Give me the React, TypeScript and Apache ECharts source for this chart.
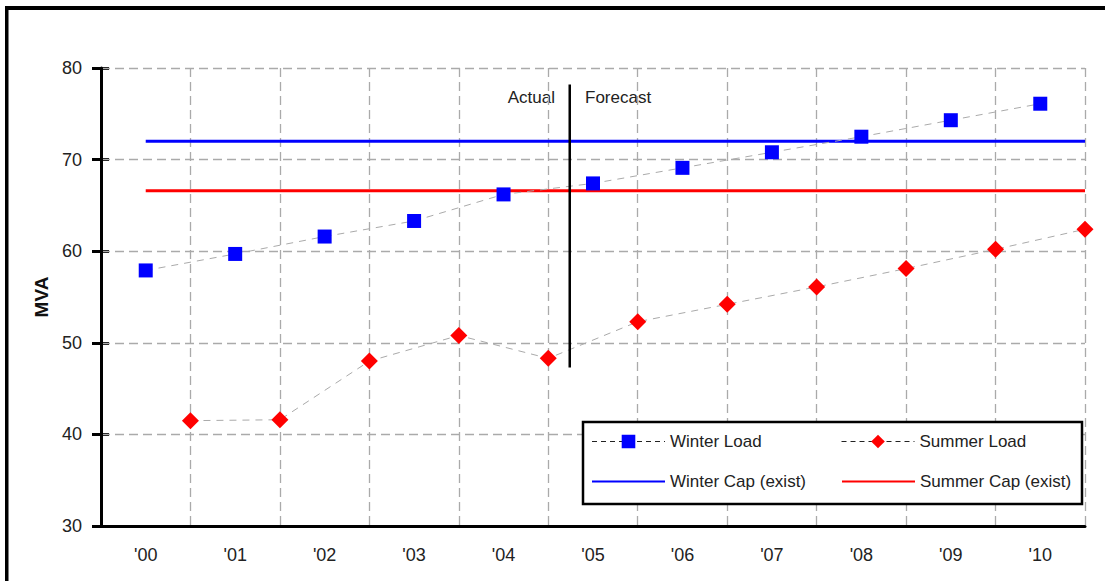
import React, { useEffect, useRef } from "react";
import * as echarts from "echarts";

// Year labels on the category axis
const years = ["'00", "'01", "'02", "'03", "'04", "'05", "'06", "'07", "'08", "'09", "'10"];

// Peak loads in MVA
const winterLoad = [57.9, 59.7, 61.6, 63.3, 66.2, 67.4, 69.1, 70.8, 72.5, 74.3, 76.1];
const summerLoad = [41.5, 41.6, 48.0, 50.8, 48.3, 52.3, 54.2, 56.1, 58.1, 60.2, 62.4];

// Existing capacities in MVA
const winterCap = 72.0;
const summerCap = 66.6;

// Actual / forecast divider: position on the year scale and its vertical extent (MVA)
const dividerX = 5.24;
const dividerTop = 78.2;
const dividerBottom = 47.3;

const yTicks = { min: 30, max: 80, interval: 10 };

const FONT = "'Liberation Sans', Arial, sans-serif";

export default function App() {
  const ref = useRef<HTMLDivElement>(null);

  useEffect(() => {
    if (!ref.current) return;
    const chart = echarts.init(ref.current, null, { renderer: "svg" });

    // winter loads sit mid-year, summer loads sit at the year boundaries
    const winterData = winterLoad.map((v, i) => [i + 0.5, v]);
    const summerData = summerLoad.map((v, i) => [i + 1, v]);
    const end = years.length;

    const gridLine = { color: "#aaaaaa", type: [9, 5] as any, width: 1.3 };

    chart.setOption({
      animation: false,
      backgroundColor: "#ffffff",
      textStyle: { fontFamily: FONT },
      grid: { left: 101, right: 20, top: 68, bottom: 55 },
      xAxis: [
        {
          type: "category",
          data: years,
          boundaryGap: true,
          axisLine: { lineStyle: { color: "#000", width: 3 } },
          axisTick: { length: 8, lineStyle: { color: "#000", width: 2.5 } },
          axisLabel: { fontSize: 18, color: "#222", margin: 20, fontFamily: FONT },
          splitLine: { show: true, lineStyle: gridLine },
          z: 3,
        },
        { type: "value", min: 0, max: end, show: false },
      ],
      yAxis: [
        {
          type: "value",
          ...yTicks,
          name: "MVA",
          nameLocation: "middle",
          nameGap: 47,
          nameTextStyle: { fontSize: 19, fontWeight: "bold", color: "#111", fontFamily: FONT },
          axisLine: { show: true, lineStyle: { color: "#000", width: 3 } },
          axisTick: { show: true, length: 9, lineStyle: { color: "#000", width: 3 } },
          axisLabel: { fontSize: 18, color: "#222", margin: 19, fontFamily: FONT },
          splitLine: { show: true, lineStyle: gridLine },
          z: 3,
        },
        {
          type: "value",
          ...yTicks,
          position: "left",
          axisLine: { show: false },
          axisTick: { show: true, inside: true, length: 8, lineStyle: { color: "#000", width: 3 } },
          axisLabel: { show: false },
          splitLine: { show: false },
        },
      ],
      legend: {
        left: 583,
        top: 422,
        width: 495,
        orient: "horizontal",
        backgroundColor: "#fff",
        borderColor: "#000",
        borderWidth: 2.5,
        padding: [5, 2, 8, 8],
        itemGap: 11,
        itemWidth: 73,
        itemHeight: 17,
        textStyle: { fontSize: 17, color: "#222", width: 160, lineHeight: 29, fontFamily: FONT },
        data: [
          { name: "Winter Load", lineStyle: { color: "#222", type: [5, 4], width: 1 } },
          { name: "Summer Load", lineStyle: { color: "#222", type: [5, 4], width: 1 } },
          { name: "Winter Cap (exist)", itemStyle: { opacity: 0 } },
          { name: "Summer Cap (exist)", itemStyle: { opacity: 0 } },
        ],
        selectedMode: false,
      },
      series: [
        {
          name: "Winter Cap (exist)",
          type: "line",
          xAxisIndex: 1,
          data: [[winterData[0][0], winterCap], [end, winterCap]],
          showSymbol: false,
          symbol: "none",
          lineStyle: { color: "#0000ff", width: 3 },
          itemStyle: { color: "#0000ff" },
        },
        {
          name: "Summer Cap (exist)",
          type: "line",
          xAxisIndex: 1,
          data: [[winterData[0][0], summerCap], [end, summerCap]],
          showSymbol: false,
          symbol: "none",
          lineStyle: { color: "#ff0000", width: 3 },
          itemStyle: { color: "#ff0000" },
        },
        {
          name: "Winter Load",
          type: "line",
          xAxisIndex: 1,
          data: winterData,
          symbol: "rect",
          symbolSize: 14,
          lineStyle: { color: "#aaaaaa", type: [7, 6], width: 1 },
          itemStyle: { color: "#0000ff" },
        },
        {
          name: "Summer Load",
          type: "line",
          xAxisIndex: 1,
          data: summerData,
          symbol: "diamond",
          symbolSize: 17,
          lineStyle: { color: "#aaaaaa", type: [7, 6], width: 1 },
          itemStyle: { color: "#ff0000" },
        },
        {
          name: "divider",
          type: "line",
          xAxisIndex: 1,
          data: [[dividerX, dividerTop], [dividerX, dividerBottom]],
          symbol: "none",
          lineStyle: { color: "#000", width: 2.5 },
          z: 5,
        },
      ],
      graphic: [
        { type: "rect", shape: { x: 5, y: 6, width: 1100, height: 4 }, style: { fill: "#000" } },
        { type: "rect", shape: { x: 5, y: 6, width: 3.5, height: 575 }, style: { fill: "#000" } },
        {
          type: "text",
          x: 555,
          y: 97,
          style: { text: "Actual", fontSize: 17, fill: "#222", align: "right", verticalAlign: "middle", fontFamily: FONT },
        },
        {
          type: "text",
          x: 585,
          y: 97,
          style: { text: "Forecast", fontSize: 17, fill: "#222", align: "left", verticalAlign: "middle", fontFamily: FONT },
        },
      ],
    });

    return () => chart.dispose();
  }, []);

  return (
    <div
      ref={ref}
      style={{ position: "absolute", left: 0, top: 0, width: 1105, height: 581 }}
    />
  );
}
